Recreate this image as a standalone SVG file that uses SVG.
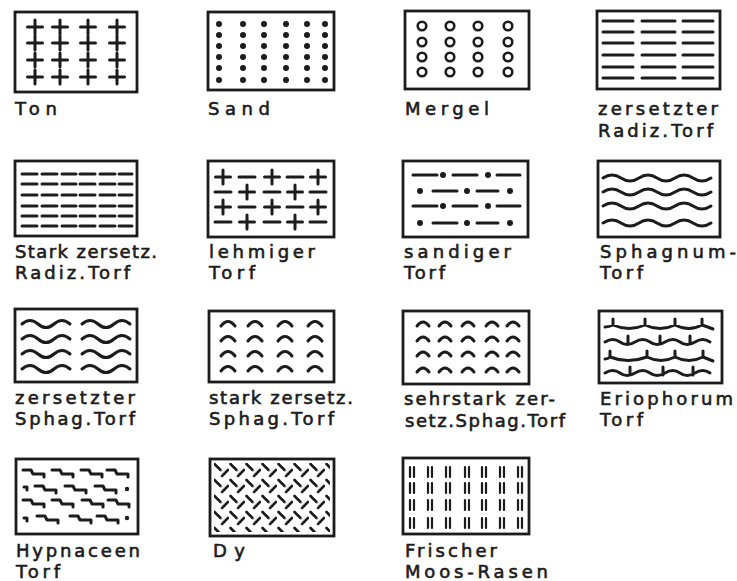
<svg xmlns="http://www.w3.org/2000/svg" xmlns:xlink="http://www.w3.org/1999/xlink" width="737" height="581" viewBox="0 0 737 581">
<style>
.box{fill:#fff;stroke:#1c1c1c;stroke-width:2.8}
.ln{fill:none;stroke:#1c1c1c;stroke-width:3;stroke-linecap:round;stroke-linejoin:round}
.thin{fill:none;stroke:#1c1c1c;stroke-width:2.2;stroke-linecap:round}
.dot{fill:#1c1c1c}
.lbl{font-family:"DejaVu Sans","Liberation Sans",sans-serif;font-size:18px;fill:#1c1c1c;stroke:#1c1c1c;stroke-width:0.6}
</style>
<defs>
<path id="cross" class="ln" d="M-7.5,0h15M0,-7v14"/>
<path id="dash" class="ln" d="M-8,0h16"/>
<circle id="ring" r="4.3" fill="none" stroke="#1c1c1c" stroke-width="2.6"/>
<circle id="pt" r="3" class="dot"/>
<path id="arcA" class="ln" d="M-7,3Q0,-6 7,3"/>
<path id="arcB" class="ln" d="M-6,3Q0,-5 6,3"/>
<path id="shortwave" class="ln" d="M0,1q8,-7 16,0t16,0t16,0"/>
<path id="hook" class="ln" d="M0,0h8l2,4h11v3"/>
<path id="pair" class="thin" d="M-2,-5v10M2,-5v10"/>
<pattern id="dyPat" patternUnits="userSpaceOnUse" x="213" y="462" width="16" height="16">
<path d="M1.5,2L7.5,8M9,14L15,8" stroke="#1c1c1c" stroke-width="2.6" stroke-linecap="round"/>
</pattern>
</defs>

<g id="ton">
<rect class="box" x="15" y="12" width="122" height="80"/>
<use href="#cross" x="35" y="27"/><use href="#cross" x="60" y="27"/><use href="#cross" x="88" y="27"/><use href="#cross" x="117" y="27"/>
<use href="#cross" x="35" y="43"/><use href="#cross" x="60" y="43"/><use href="#cross" x="88" y="43"/><use href="#cross" x="117" y="43"/>
<use href="#cross" x="35" y="60"/><use href="#cross" x="60" y="60"/><use href="#cross" x="88" y="60"/><use href="#cross" x="117" y="60"/>
<use href="#cross" x="35" y="77"/><use href="#cross" x="60" y="77"/><use href="#cross" x="88" y="77"/><use href="#cross" x="117" y="77"/>
<text class="lbl" x="15" y="115" textLength="42" lengthAdjust="spacing">Ton</text>
</g>

<g id="sand">
<rect class="box" x="208" y="12" width="126" height="78"/>
<g>
<use href="#pt" x="219" y="24"/><use href="#pt" x="243" y="24"/><use href="#pt" x="264" y="24"/><use href="#pt" x="286" y="24"/><use href="#pt" x="307" y="24"/><use href="#pt" x="325" y="24"/>
<use href="#pt" x="219" y="35"/><use href="#pt" x="243" y="35"/><use href="#pt" x="264" y="35"/><use href="#pt" x="286" y="35"/><use href="#pt" x="307" y="35"/><use href="#pt" x="325" y="35"/>
<use href="#pt" x="219" y="46"/><use href="#pt" x="243" y="46"/><use href="#pt" x="264" y="46"/><use href="#pt" x="286" y="46"/><use href="#pt" x="307" y="46"/><use href="#pt" x="325" y="46"/>
<use href="#pt" x="219" y="57"/><use href="#pt" x="243" y="57"/><use href="#pt" x="264" y="57"/><use href="#pt" x="286" y="57"/><use href="#pt" x="307" y="57"/><use href="#pt" x="325" y="57"/>
<use href="#pt" x="219" y="68"/><use href="#pt" x="243" y="68"/><use href="#pt" x="264" y="68"/><use href="#pt" x="286" y="68"/><use href="#pt" x="307" y="68"/><use href="#pt" x="325" y="68"/>
<use href="#pt" x="219" y="80"/><use href="#pt" x="243" y="80"/><use href="#pt" x="264" y="80"/><use href="#pt" x="286" y="80"/><use href="#pt" x="307" y="80"/><use href="#pt" x="325" y="80"/>
</g>
<text class="lbl" x="208" y="115" textLength="62" lengthAdjust="spacing">Sand</text>
</g>

<g id="mergel">
<rect class="box" x="405" y="11" width="124" height="78"/>
<use href="#ring" x="422" y="26"/><use href="#ring" x="450" y="26"/><use href="#ring" x="478" y="26"/><use href="#ring" x="508" y="26"/>
<use href="#ring" x="422" y="42"/><use href="#ring" x="450" y="42"/><use href="#ring" x="478" y="42"/><use href="#ring" x="508" y="42"/>
<use href="#ring" x="422" y="57"/><use href="#ring" x="450" y="57"/><use href="#ring" x="478" y="57"/><use href="#ring" x="508" y="57"/>
<use href="#ring" x="422" y="72"/><use href="#ring" x="450" y="72"/><use href="#ring" x="478" y="72"/><use href="#ring" x="508" y="72"/>
<text class="lbl" x="405" y="115" textLength="84" lengthAdjust="spacing">Mergel</text>
</g>

<g id="zersetzter-radiz">
<rect class="box" x="597" y="11" width="123" height="78"/>
<path class="ln" d="M603,21h30M642,21h33M683,21h30M603,32h30M642,32h33M683,32h30M603,43h30M642,43h33M683,43h30M603,55h30M642,55h33M683,55h30M603,67h30M642,67h33M683,67h30M603,78h30M642,78h33M683,78h30"/>
<text class="lbl" x="598" y="115" textLength="120" lengthAdjust="spacing">zersetzter</text>
<text class="lbl" x="598" y="137" textLength="115" lengthAdjust="spacing">Radiz.Torf</text>
</g>

<g id="stark-radiz">
<rect class="box" x="15" y="161" width="122" height="75"/>
<path class="ln" d="M22,174h15M42,174h15M62,174h14M80,174h15M100,174h15M119,174h13M22,184h15M42,184h15M62,184h14M80,184h15M100,184h15M119,184h13M22,195h15M42,195h15M62,195h14M80,195h15M100,195h15M119,195h13M22,206h15M42,206h15M62,206h14M80,206h15M100,206h15M119,206h13M22,216h15M42,216h15M62,216h14M80,216h15M100,216h15M119,216h13M22,226h15M42,226h15M62,226h14M80,226h15M100,226h15M119,226h13"/>
<text class="lbl" x="15" y="258" textLength="142" lengthAdjust="spacing">Stark zersetz.</text>
<text class="lbl" x="15" y="279" textLength="115" lengthAdjust="spacing">Radiz.Torf</text>
</g>

<g id="lehmiger">
<rect class="box" x="208" y="161" width="126" height="76"/>
<use href="#cross" x="223" y="177"/><use href="#dash" x="247" y="177"/><use href="#cross" x="272" y="177"/><use href="#dash" x="295" y="177"/><use href="#cross" x="318" y="177"/>
<use href="#dash" x="223" y="192"/><use href="#cross" x="247" y="192"/><use href="#dash" x="272" y="192"/><use href="#cross" x="295" y="192"/><use href="#dash" x="318" y="192"/>
<use href="#cross" x="223" y="207"/><use href="#dash" x="247" y="207"/><use href="#cross" x="272" y="207"/><use href="#dash" x="295" y="207"/><use href="#cross" x="318" y="207"/>
<use href="#dash" x="223" y="222"/><use href="#cross" x="247" y="222"/><use href="#dash" x="272" y="222"/><use href="#cross" x="295" y="222"/><use href="#dash" x="318" y="222"/>
<text class="lbl" x="209" y="258" textLength="106" lengthAdjust="spacing">lehmiger</text>
<text class="lbl" x="209" y="279" textLength="46" lengthAdjust="spacing">Torf</text>
</g>

<g id="sandiger">
<rect class="box" x="403" y="161" width="125" height="76"/>
<path class="ln" d="M413,175h24M453,175h24M497,175h23M433,191h24M477,191h21M413,206h24M453,206h24M497,206h23M433,223h24M477,223h21"/>
<use href="#pt" x="443" y="175"/><use href="#pt" x="488" y="175"/>
<use href="#pt" x="420" y="191"/><use href="#pt" x="467" y="191"/><use href="#pt" x="510" y="191"/>
<use href="#pt" x="443" y="206"/><use href="#pt" x="488" y="206"/>
<use href="#pt" x="420" y="223"/><use href="#pt" x="467" y="223"/><use href="#pt" x="510" y="223"/>
<text class="lbl" x="404" y="258" textLength="107" lengthAdjust="spacing">sandiger</text>
<text class="lbl" x="404" y="279" textLength="41" lengthAdjust="spacing">Torf</text>
</g>

<g id="sphagnum">
<rect class="box" x="598" y="161" width="122" height="76"/>
<path class="ln" d="M603,178q9,-6 18,0t18,0t18,0t18,0t18,0t18,0M603,192q9,-6 18,0t18,0t18,0t18,0t18,0t18,0M603,206q9,-6 18,0t18,0t18,0t18,0t18,0t18,0M603,223q9,-6 18,0t18,0t18,0t18,0t18,0t18,0"/>
<text class="lbl" x="600" y="258" textLength="136" lengthAdjust="spacing">Sphagnum-</text>
<text class="lbl" x="600" y="279" textLength="43" lengthAdjust="spacing">Torf</text>
</g>

<g id="zersetzter-sphag">
<rect class="box" x="15" y="309" width="122" height="73"/>
<use href="#shortwave" x="22" y="323"/><use href="#shortwave" x="82" y="323"/>
<use href="#shortwave" x="22" y="338"/><use href="#shortwave" x="82" y="338"/>
<use href="#shortwave" x="22" y="353"/><use href="#shortwave" x="82" y="353"/>
<use href="#shortwave" x="22" y="368"/><use href="#shortwave" x="82" y="368"/>
<text class="lbl" x="15" y="404" textLength="120" lengthAdjust="spacing">zersetzter</text>
<text class="lbl" x="15" y="425" textLength="120" lengthAdjust="spacing">Sphag.Torf</text>
</g>

<g id="stark-sphag">
<rect class="box" x="209" y="311" width="125" height="71"/>
<use href="#arcA" x="228" y="323"/><use href="#arcA" x="255" y="323"/><use href="#arcA" x="285" y="323"/><use href="#arcA" x="315" y="323"/>
<use href="#arcA" x="228" y="338"/><use href="#arcA" x="255" y="338"/><use href="#arcA" x="285" y="338"/><use href="#arcA" x="315" y="338"/>
<use href="#arcA" x="228" y="353"/><use href="#arcA" x="255" y="353"/><use href="#arcA" x="285" y="353"/><use href="#arcA" x="315" y="353"/>
<use href="#arcA" x="228" y="368"/><use href="#arcA" x="255" y="368"/><use href="#arcA" x="285" y="368"/><use href="#arcA" x="315" y="368"/>
<text class="lbl" x="209" y="404" textLength="144" lengthAdjust="spacing">stark zersetz.</text>
<text class="lbl" x="209" y="425" textLength="125" lengthAdjust="spacing">Sphag.Torf</text>
</g>

<g id="sehrstark-sphag">
<rect class="box" x="403" y="311" width="126" height="73"/>
<use href="#arcB" x="423" y="323"/><use href="#arcB" x="445" y="323"/><use href="#arcB" x="468" y="323"/><use href="#arcB" x="492" y="323"/><use href="#arcB" x="513" y="323"/>
<use href="#arcB" x="423" y="338"/><use href="#arcB" x="445" y="338"/><use href="#arcB" x="468" y="338"/><use href="#arcB" x="492" y="338"/><use href="#arcB" x="513" y="338"/>
<use href="#arcB" x="423" y="353"/><use href="#arcB" x="445" y="353"/><use href="#arcB" x="468" y="353"/><use href="#arcB" x="492" y="353"/><use href="#arcB" x="513" y="353"/>
<use href="#arcB" x="423" y="369"/><use href="#arcB" x="445" y="369"/><use href="#arcB" x="468" y="369"/><use href="#arcB" x="492" y="369"/><use href="#arcB" x="513" y="369"/>
<text class="lbl" x="404" y="405" textLength="151" lengthAdjust="spacing">sehrstark zer-</text>
<text class="lbl" x="405" y="427" textLength="160" lengthAdjust="spacing">setz.Sphag.Torf</text>
</g>

<g id="eriophorum">
<rect class="box" x="599" y="311" width="123" height="72"/>
<path class="ln" d="M605,327Q609,327 613,325Q629,332 645,325Q660,332 675,325Q689,332 702,325Q708,327 713,329M613,325v-6M645,325v-6M675,325v-6M702,325v-6"/>
<path class="ln" d="M605,342q8,-5 15,0t15,0t15,0t15,0t15,0t15,0t15,0M628,336v8M660,336v8M690,336v8"/>
<path class="ln" d="M605,359Q608,359 610,357Q628,364 647,357Q661,364 675,357Q689,364 703,357Q708,359 713,361M610,357v-6M647,357v-6M675,357v-6M703,357v-6"/>
<path class="ln" d="M605,373q8,-5 15,0t15,0t15,0t15,0t15,0t15,0t15,0M630,367v8M663,367v8M693,367v8"/>
<text class="lbl" x="600" y="405" textLength="133" lengthAdjust="spacing">Eriophorum</text>
<text class="lbl" x="600" y="426" textLength="43" lengthAdjust="spacing">Torf</text>
</g>

<g id="hypnaceen">
<rect class="box" x="16" y="459" width="122" height="75"/>
<use href="#hook" x="23" y="470"/><use href="#hook" x="52" y="470"/><use href="#hook" x="81" y="470"/><use href="#hook" x="107" y="470"/>
<path class="ln" d="M24,487h3v3"/><use href="#hook" x="35" y="486"/><use href="#hook" x="65" y="486"/><use href="#hook" x="95" y="486"/><circle class="dot" cx="127" cy="489" r="2.2"/>
<use href="#hook" x="23" y="500"/><use href="#hook" x="52" y="500"/><use href="#hook" x="82" y="500"/><use href="#hook" x="108" y="500"/>
<path class="ln" d="M24,518h3v3"/><use href="#hook" x="37" y="516"/><use href="#hook" x="70" y="516"/><use href="#hook" x="97" y="516"/><circle class="dot" cx="127" cy="518" r="2.2"/>
<text class="lbl" x="16" y="557" textLength="124" lengthAdjust="spacing">Hypnaceen</text>
<text class="lbl" x="16" y="578" textLength="44" lengthAdjust="spacing">Torf</text>
</g>

<g id="dy">
<rect class="box" x="210" y="459" width="124" height="77"/>
<rect x="214" y="463" width="116" height="69" fill="url(#dyPat)"/>
<text class="lbl" x="213" y="557" textLength="32" lengthAdjust="spacing">Dy</text>
</g>

<g id="frischer">
<rect class="box" x="403" y="458" width="126" height="76"/>
<use href="#pair" x="412" y="472"/><use href="#pair" x="430" y="472"/><use href="#pair" x="448" y="472"/><use href="#pair" x="467" y="472"/><use href="#pair" x="484" y="472"/><use href="#pair" x="502" y="472"/><use href="#pair" x="520" y="472"/>
<use href="#pair" x="412" y="488"/><use href="#pair" x="430" y="488"/><use href="#pair" x="448" y="488"/><use href="#pair" x="467" y="488"/><use href="#pair" x="484" y="488"/><use href="#pair" x="502" y="488"/><use href="#pair" x="520" y="488"/>
<use href="#pair" x="412" y="505"/><use href="#pair" x="430" y="505"/><use href="#pair" x="448" y="505"/><use href="#pair" x="467" y="505"/><use href="#pair" x="484" y="505"/><use href="#pair" x="502" y="505"/><use href="#pair" x="520" y="505"/>
<use href="#pair" x="412" y="523"/><use href="#pair" x="430" y="523"/><use href="#pair" x="448" y="523"/><use href="#pair" x="467" y="523"/><use href="#pair" x="484" y="523"/><use href="#pair" x="502" y="523"/><use href="#pair" x="520" y="523"/>
<text class="lbl" x="405" y="557" textLength="92" lengthAdjust="spacing">Frischer</text>
<text class="lbl" x="405" y="578" textLength="143" lengthAdjust="spacing">Moos-Rasen</text>
</g>

<g id="connectors"></g>
</svg>
